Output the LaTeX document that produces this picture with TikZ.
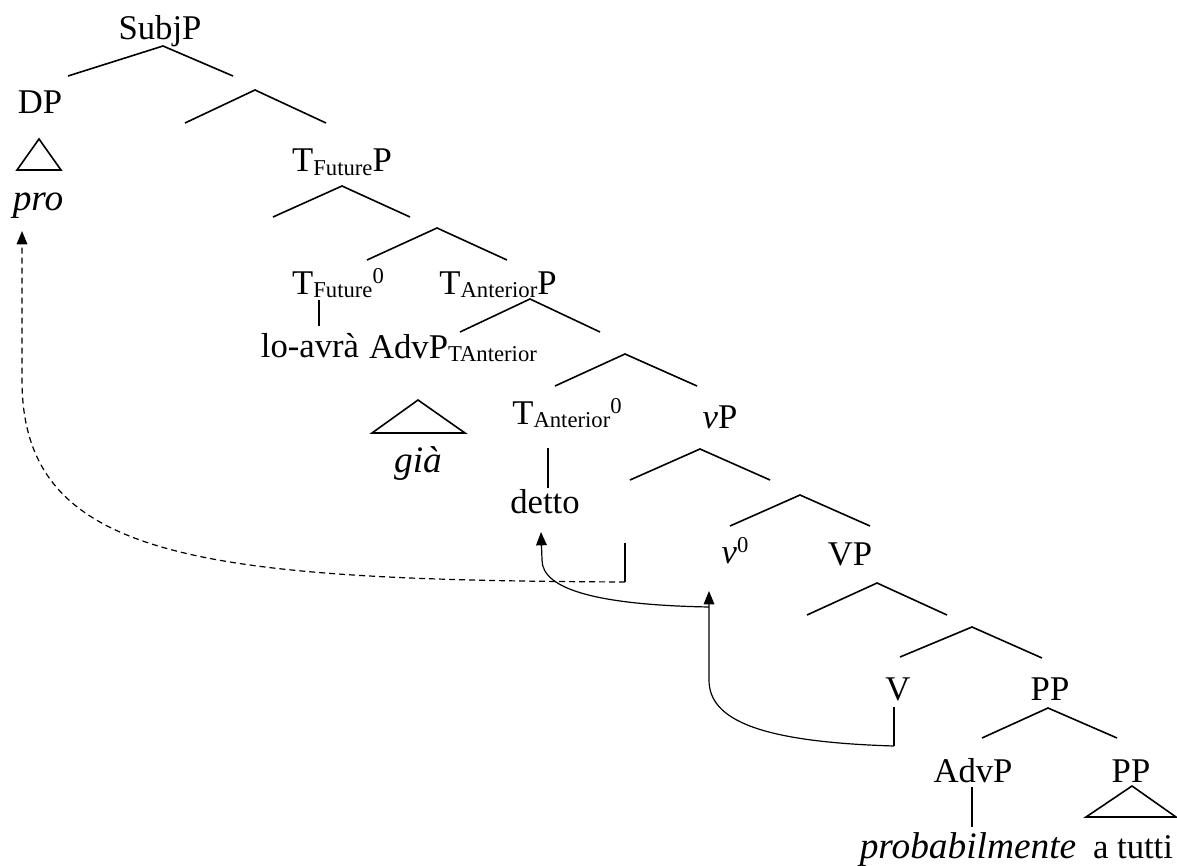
\documentclass[tikz,border=0pt]{standalone}
\usepackage{fontspec}
\setmainfont{Liberation Serif}
\usetikzlibrary{arrows.meta}
% small subscript / superscript labels used inside category names
\newcommand{\lsub}[1]{\raisebox{-0.1em}{\fontsize{17}{17}\selectfont #1}}
\newcommand{\lsup}[1]{\raisebox{0.3em}{\fontsize{17}{17}\selectfont #1}}
\begin{document}
\begin{tikzpicture}[x=0.75pt,y=-0.75pt,
  lbl/.style={inner sep=0pt,anchor=base,font=\fontsize{26}{30}\selectfont},
  word/.style={lbl,font=\fontsize{28}{32}\selectfont\itshape},
  branch/.style={line width=1.2pt},
  move/.style={line width=0.9pt,-{Triangle[length=10pt,width=8pt]}},
  chain/.style={move,dashed,dash pattern=on 4.5pt off 3pt}]
\useasboundingbox (0,0) rectangle (1177,866);

% ---- labels ----
\node[lbl] (subjp) at (160,40) {SubjP};
\node[lbl] (dp) at (40,114) {DP};
\node[word] (pro) at (38,211) {pro};
\node[lbl] (tfp) at (342,172) {T\lsub{Future}P};
\node[lbl] (tf0) at (338,294) {T\lsub{Future}\lsup{0}};
\node[lbl] (tap) at (498,294) {T\lsub{Anterior}P};
\node[lbl] (loavra) at (310,357) {lo-avrà};
\node[lbl] (advpt) at (453,358) {AdvP\lsub{TAnterior}};
\node[word] (gia) at (418,472) {già};
\node[lbl] (ta0) at (567,424) {T\lsub{Anterior}\lsup{0}};
\node[lbl] (vp) at (720,428) {\itshape v\upshape P};
\node[lbl] (detto) at (545,513) {detto};
\node[lbl] (v0) at (735,563) {\itshape v\upshape\lsup{0}};
\node[lbl] (bigvp) at (850,565) {VP};
\node[lbl] (v) at (898,700) {V};
\node[lbl] (pp) at (1050,700) {PP};
\node[lbl] (advp) at (973,782) {AdvP};
\node[lbl] (pp2) at (1131,782) {PP};
\node[word] (prob) at (968,858) {probabilmente};
\node[lbl] (atutti) at (1133,858) {a tutti};

% ---- branching points ----
\coordinate (a-subj) at (163,46);   \coordinate (l-subj) at (68,76);   \coordinate (r-subj) at (233,76);
\coordinate (a-bar1) at (255,90);   \coordinate (l-bar1) at (185,123); \coordinate (r-bar1) at (326,123);
\coordinate (a-tfp) at (342,186);   \coordinate (l-tfp) at (273,217);  \coordinate (r-tfp) at (410,217);
\coordinate (a-bar2) at (437,228);  \coordinate (l-bar2) at (367,260); \coordinate (r-bar2) at (507,260);
\coordinate (a-tap) at (530,299);   \coordinate (l-tap) at (460,332);  \coordinate (r-tap) at (600,332);
\coordinate (a-bar3) at (625,354);  \coordinate (l-bar3) at (555,386); \coordinate (r-bar3) at (697,386);
\coordinate (a-vp) at (700,449);    \coordinate (l-vp) at (630,480);   \coordinate (r-vp) at (770,480);
\coordinate (a-bar4) at (800,495);  \coordinate (l-bar4) at (730,526); \coordinate (r-bar4) at (870,526);
\coordinate (a-bigvp) at (877,583); \coordinate (l-bigvp) at (807,615);\coordinate (r-bigvp) at (947,615);
\coordinate (a-bar5) at (972,627);  \coordinate (l-bar5) at (900,657); \coordinate (r-bar5) at (1042,658);
\coordinate (a-pp) at (1048,708);   \coordinate (l-pp) at (982,738);   \coordinate (r-pp) at (1117,738);

\foreach \n in {subj,bar1,tfp,bar2,tap,bar3,vp,bar4,bigvp,bar5,pp}
  \draw[branch] (l-\n) -- (a-\n) -- (r-\n);

% unary branches
\coordinate (tf0-t) at (319,300); \coordinate (tf0-b) at (319,326);
\coordinate (ta0-t) at (548,448); \coordinate (ta0-b) at (548,488);
\coordinate (advp-t) at (972,787); \coordinate (advp-b) at (972,827);
\draw[branch] (tf0-t) -- (tf0-b);
\draw[branch] (ta0-t) -- (ta0-b);
\draw[branch] (advp-t) -- (advp-b);

% triangles
\draw[branch] (39,139) -- (17,170) -- (61,170) -- cycle;
\draw[branch] (418,400) -- (372,433) -- (465,433) -- cycle;
\draw[branch] (1132,786) -- (1086,817) -- (1176,817) -- cycle;

% traces
\coordinate (trv-t) at (625,543); \coordinate (trv-b) at (625,582);
\coordinate (trV-t) at (894,707); \coordinate (trV-b) at (894,746);
\draw[branch] (trv-t) -- (trv-b);
\draw[branch] (trV-t) -- (trV-b);

% movement
\coordinate (pro-tip) at (22,231);
\coordinate (detto-tip) at (541,532);
\coordinate (v0-tip) at (709,591);
\coordinate (v0-base) at (709,607);
\draw[chain] (trv-b) .. controls (200,580) and (22,560) .. (22,380) -- (pro-tip);
\draw[move] (trV-b) .. controls (760,742) and (709,720) .. (709,680) -- (v0-tip);
\draw[move] (v0-base) .. controls (600,605) and (542,590) .. (542,560) -- (detto-tip);
\end{tikzpicture}
\end{document}
